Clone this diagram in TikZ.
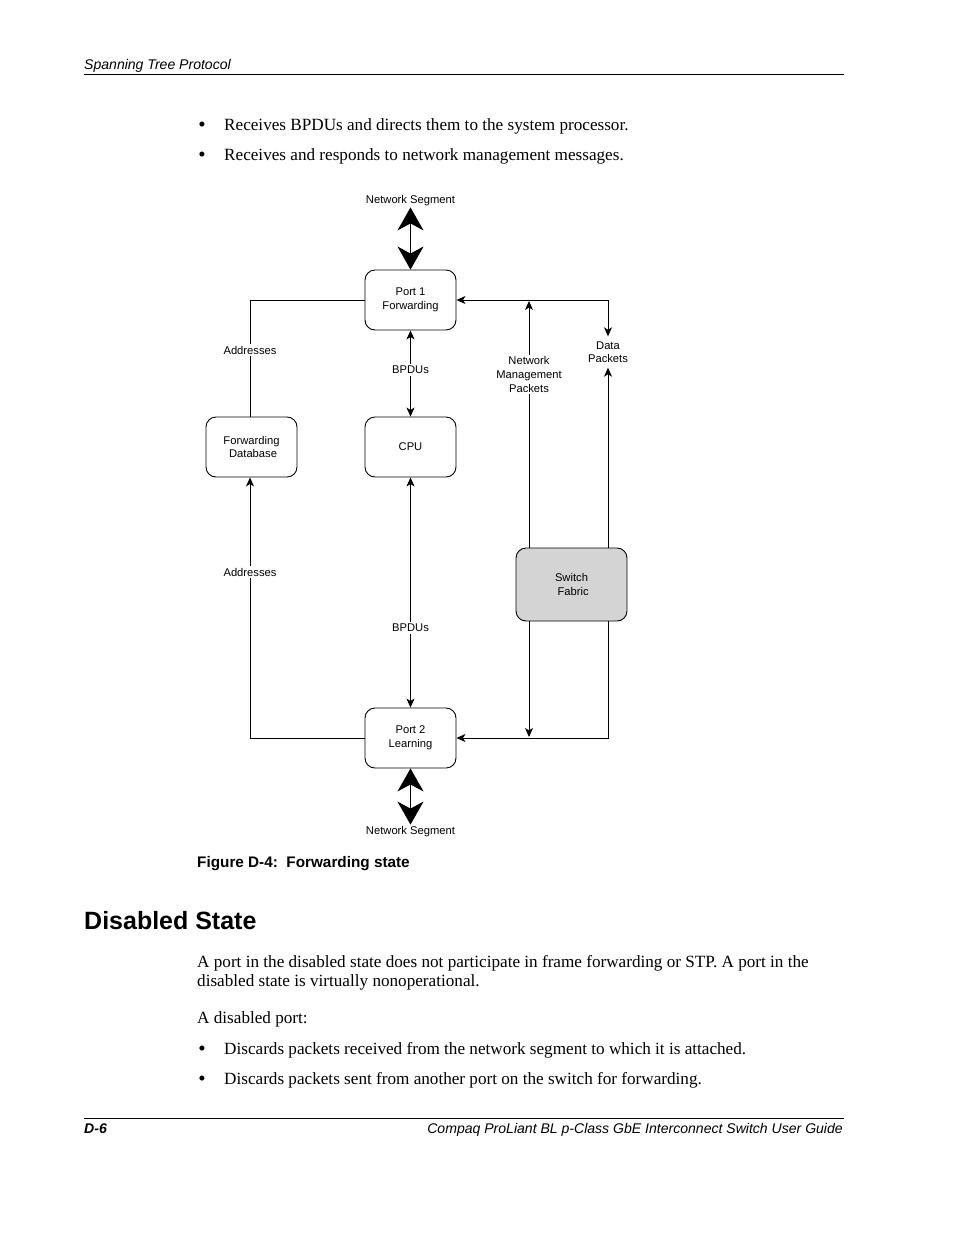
\documentclass[tikz,border=0pt]{standalone}
\usepackage{fontspec}
\setmainfont{Liberation Serif}
\setsansfont{Liberation Sans}
\usetikzlibrary{arrows.meta}
\newcommand\dgfont{\sffamily\fontsize{11.2}{13.6}\selectfont}
\newcommand\bodyfont{\rmfamily\fontsize{17.15}{19}\selectfont}
\newcommand\bulfont{\rmfamily\fontsize{21}{22}\selectfont}
\newcommand\runfont{\sffamily\itshape\fontsize{14.05}{16}\selectfont}
\begin{document}
\begin{tikzpicture}[x=1pt,y=-1pt,
  box/.style={draw, rounded corners=10pt, line width=0.9pt, minimum width=91pt,
    minimum height=60pt, align=center, font=\dgfont, inner sep=0pt},
  lbl/.style={fill=white, align=center, font=\dgfont, inner sep=2pt},
  wire/.style={line width=0.9pt},
  arr/.style={wire, -{Stealth[length=9pt,width=8pt,inset=2.5pt]}},
  dbl/.style={wire, {Stealth[length=9pt,width=8pt,inset=2.5pt]}-{Stealth[length=9pt,width=8pt,inset=2.5pt]}},
  big/.style={line width=1pt, {Stealth[length=23pt,width=26pt,inset=7pt]}-{Stealth[length=23pt,width=26pt,inset=7pt]}},
  body/.style={anchor=base west, inner sep=0pt, font=\bodyfont},
  bul/.style={anchor=base, inner sep=0pt, font=\bulfont}]
\fill[white] (0,0) rectangle (954,1235);
\useasboundingbox (0,0) rectangle (954,1235);

% running header
\node[anchor=base west, inner sep=0pt, font=\runfont] (hdr) at (84,69) {Spanning Tree Protocol};
\draw[line width=1pt] (84,74) -- (844,74);

% top bullets
\node[bul] (d1) at (202,131) {•};
\node[body] (t1) at (224,130) {Receives BPDUs and directs them to the system processor.};
\node[bul] (d2) at (202,161) {•};
\node[body] (t2) at (224,160) {Receives and responds to network management messages.};

% diagram nodes
\node[box] (p1) at (410.5,300) {Port 1\\Forwarding};
\node[box] (fdb) at (251.5,447) {Forwarding\\\ Database};
\node[box] (cpu) at (410.5,447) {CPU};
\node[box, fill={rgb,255:red,212;green,212;blue,212}, minimum width=111pt, minimum height=73pt] (sf) at (571.5,584.5) {Switch\\\ Fabric};
\node[box] (p2) at (410.5,738) {Port 2\\Learning};
\node[font=\dgfont, inner sep=1pt] (ns1) at (410.5,201) {Network Segment};
\node[font=\dgfont, inner sep=2pt] (ns2) at (410.5,832) {Network Segment};

\coordinate (lx) at (250,0);
\coordinate (tr) at (608,300);
\coordinate (nmt) at (529,301);
\coordinate (nmb) at (529,737);

% network segment links
\draw[big] (ns1.south) -- (p1.north);
\draw[big] (p2.south) -- (ns2.north);

% left: addresses
\draw[wire] (p1.west) -| (fdb.north -| lx);
\draw[arr] (p2.west) -| (fdb.south -| lx);

% centre: BPDUs
\draw[dbl] (p1.south) -- (cpu.north);
\draw[dbl] (cpu.south) -- (p2.north);

% right side
\draw[arr] (tr) -- (p1.east);
\draw[arr] (sf.north -| nmt) -- (nmt);
\draw[arr] (sf.south -| nmb) -- (nmb);
\draw[arr] (sf.south -| tr) |- (p2.east);

% labels
\node[lbl] (a1) at (250,350) {Addresses};
\node[lbl] (a2) at (250,572) {Addresses};
\node[lbl] (bp1) at (410.5,370) {BPDUs};
\node[lbl] (bp2) at (410.5,628) {BPDUs};
\node[lbl] (nm) at (529,374.5) {Network\\Management\\Packets};
\node[lbl, inner sep=0pt, minimum height=31pt] (dp) at (608,352) {Data\\Packets};
\draw[arr] (tr) -- (dp.north);
\draw[arr] (sf.north -| tr) -- (dp.south);

% caption
\node[anchor=base west, inner sep=0pt, font=\sffamily\bfseries\fontsize{15.3}{17}\selectfont] (cap) at (197,867) {Figure D-4:\ \ Forwarding state};

% heading
\node[anchor=base west, inner sep=0pt, font=\sffamily\bfseries\fontsize{25}{28}\selectfont] (hd) at (84,929) {Disabled State};

% paragraph
\node[body] (p1a) at (197,967) {A port in the disabled state does not participate in frame forwarding or STP. A port in the};
\node[body] (p1b) at (197,986) {disabled state is virtually nonoperational.};
\node[body] (p2a) at (197,1023) {A disabled port:};
\node[bul] (d3) at (202,1055) {•};
\node[body] (t3) at (224,1054) {Discards packets received from the network segment to which it is attached.};
\node[bul] (d4) at (202,1085) {•};
\node[body] (t4) at (224,1084) {Discards packets sent from another port on the switch for forwarding.};

% footer
\draw[line width=1pt] (84,1118) -- (844,1118);
\node[anchor=base west, inner sep=0pt, font=\sffamily\bfseries\itshape\fontsize{14.05}{16}\selectfont] (pg) at (84,1133) {D-6};
\node[anchor=base east, inner sep=0pt, font=\runfont] (ft) at (843,1133) {Compaq ProLiant BL p-Class GbE Interconnect Switch User Guide};
\end{tikzpicture}
\end{document}
